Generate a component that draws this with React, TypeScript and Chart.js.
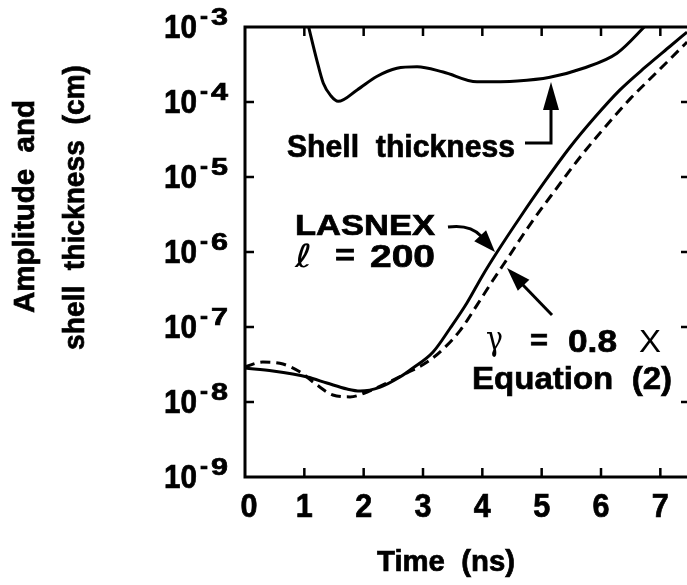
import React, { useEffect, useRef } from "react";
import { Chart, registerables } from "chart.js";

Chart.register(...registerables);

// LASNEX simulation, l = 200 (solid)
const lasnexTime = [0, 0.47, 1.05, 1.38, 1.72, 1.94, 2.28, 2.61, 2.83, 3.17, 3.46, 3.74, 4.0, 4.25, 4.64, 5.06, 5.48, 5.9, 6.32, 6.75, 7.17, 7.45];
const lasnexAmp = [2.84e-8, 2.59e-8, 2.15e-8, 1.79e-8, 1.49e-8, 1.4e-8, 1.58e-8, 2.15e-8, 2.84e-8, 4.65e-8, 9.7e-8, 2.09e-7, 4.8e-7, 1.0e-6, 2.93e-6, 8.85e-6, 2.51e-5, 6.3e-5, 1.45e-4, 2.93e-4, 5.58e-4, 8.57e-4];

// gamma = 0.8 x Equation (2) (dashed)
const eqTime = [0, 0.3, 0.64, 0.93, 1.21, 1.48, 1.77, 2.06, 2.39, 2.73, 3.07, 3.34, 3.63, 3.91, 4.17, 4.44, 4.81, 5.23, 5.65, 6.07, 6.49, 6.91, 7.45];
const eqAmp = [2.95e-8, 3.41e-8, 3.21e-8, 2.51e-8, 1.69e-8, 1.24e-8, 1.17e-8, 1.36e-8, 1.79e-8, 2.44e-8, 3.41e-8, 5.09e-8, 9.1e-8, 1.96e-7, 4.1e-7, 8.57e-7, 2.36e-6, 6.71e-6, 1.85e-5, 4.65e-5, 1.1e-4, 2.36e-4, 6.3e-4];

// Shell thickness (solid)
const shellTime = [1.06, 1.21, 1.32, 1.45, 1.57, 1.89, 2.22, 2.56, 2.9, 3.34, 3.91, 4.59, 5.14, 5.7, 6.27, 6.78];
const shellThick = [1.1e-3, 3.63e-4, 1.78e-4, 1.2e-4, 1.02e-4, 1.45e-4, 2.19e-4, 2.82e-4, 2.95e-4, 2.51e-4, 1.86e-4, 1.91e-4, 2.14e-4, 2.82e-4, 4.47e-4, 1.1e-3];

const xTickValues = [0, 1, 2, 3, 4, 5, 6, 7];
const xTickLabels = ["0", "1", "2", "3", "4", "5", "6", "7"];
const yTickValues = [1e-9, 1e-8, 1e-7, 1e-6, 1e-5, 1e-4, 1e-3];
const yTickExponents = ["9", "8", "7", "6", "5", "4", "3"];

const xTitle = "Time  (ns)";
const yTitle1 = "Amplitude  and";
const yTitle2 = "shell  thickness  (cm)";

const font = (s: number, bold = true) =>
  `${bold ? "bold " : ""}${s}px 'Liberation Sans', Arial, sans-serif`;

function fitText(ctx: CanvasRenderingContext2D, text: string, left: number, baseline: number, width: number, f: string, heavy = true) {
  ctx.save();
  ctx.font = f;
  const w = ctx.measureText(text).width;
  ctx.translate(left, baseline);
  ctx.scale(width / w, 1);
  ctx.textAlign = "left";
  ctx.textBaseline = "alphabetic";
  ctx.fillText(text, 0, 0);
  if (heavy) {
    ctx.lineWidth = 0.7;
    ctx.strokeText(text, 0, 0);
  }
  ctx.restore();
}

function fitTextRot(ctx: CanvasRenderingContext2D, text: string, baselineX: number, startY: number, width: number, f: string) {
  ctx.save();
  ctx.font = f;
  const w = ctx.measureText(text).width;
  ctx.translate(baselineX, startY);
  ctx.rotate(-Math.PI / 2);
  ctx.scale(width / w, 1);
  ctx.textAlign = "left";
  ctx.textBaseline = "alphabetic";
  ctx.fillText(text, 0, 0);
  ctx.lineWidth = 0.7;
  ctx.strokeText(text, 0, 0);
  ctx.restore();
}

function arrowHead(ctx: CanvasRenderingContext2D, fromX: number, fromY: number, tipX: number, tipY: number, len: number, half: number) {
  const dx = tipX - fromX;
  const dy = tipY - fromY;
  const d = Math.hypot(dx, dy);
  const ux = dx / d, uy = dy / d;
  const bx = tipX - ux * len, by = tipY - uy * len;
  ctx.beginPath();
  ctx.moveTo(tipX, tipY);
  ctx.lineTo(bx - uy * half, by + ux * half);
  ctx.lineTo(bx + uy * half, by - ux * half);
  ctx.closePath();
  ctx.fill();
}

const decorPlugin = {
  id: "decor",
  afterDraw(chart: any) {
    const ctx: CanvasRenderingContext2D = chart.ctx;
    const xs = chart.scales.x;
    const ys = chart.scales.y;
    const { left, right, top, bottom } = chart.chartArea;
    ctx.save();
    ctx.strokeStyle = "#000";
    ctx.fillStyle = "#000";
    ctx.lineCap = "butt";

    // frame
    ctx.lineWidth = 3;
    ctx.strokeRect(left, top, right - left, bottom - top);

    // inward ticks
    ctx.lineWidth = 2.5;
    const tl = 9;
    xTickValues.forEach((v) => {
      const px = xs.getPixelForValue(v);
      if (v === 0) return;
      ctx.beginPath();
      ctx.moveTo(px, bottom);
      ctx.lineTo(px, bottom - tl);
      ctx.moveTo(px, top);
      ctx.lineTo(px, top + tl);
      ctx.stroke();
    });
    yTickValues.forEach((v, i) => {
      if (i === 0 || i === yTickValues.length - 1) return;
      const py = ys.getPixelForValue(v);
      ctx.beginPath();
      ctx.moveTo(left, py);
      ctx.lineTo(left + tl, py);
      ctx.moveTo(right, py);
      ctx.lineTo(right - tl, py);
      ctx.stroke();
    });

    // x tick labels
    xTickValues.forEach((v, i) => {
      const px = xs.getPixelForValue(v) + (v === 0 ? 4 : 0);
      fitText(ctx, xTickLabels[i], px - 8.5, bottom + 40, 17, font(33));
    });

    // y tick labels 10^-n
    yTickValues.forEach((v, i) => {
      const py = ys.getPixelForValue(v);
      fitText(ctx, "10", 164, py + 11, 33, font(33));
      fitText(ctx, "-", 200, py - 3, 8, font(24));
      fitText(ctx, yTickExponents[i], 211, py - 2, 17, font(24));
    });

    // axis titles
    fitText(ctx, xTitle, 377, 571, 138, font(29));
    fitTextRot(ctx, yTitle1, 34, 313, 213, font(30));
    fitTextRot(ctx, yTitle2, 84, 350, 285, font(30));

    // annotations
    fitText(ctx, "Shell  thickness", 287, 157, 228, font(32));
    fitText(ctx, "LASNEX", 295, 235, 140, font(30));
    fitText(ctx, "\u2113", 295, 267, 17, "32px 'DejaVu Sans', sans-serif", false);
    fitText(ctx, "=", 335, 265, 20, font(30));
    fitText(ctx, "200", 370, 267, 65, font(32));
    fitText(ctx, "\u03b3", 486, 350, 17, "36px 'DejaVu Serif', serif", false);
    fitText(ctx, "=", 530, 350, 18, font(30));
    fitText(ctx, "0.8", 568, 352, 49, font(32));
    fitText(ctx, "X", 639, 352, 22, font(32, false), false);
    fitText(ctx, "Equation  (2)", 472, 389, 200, font(32));

    // arrows
    ctx.lineWidth = 3;
    // shell thickness arrow
    ctx.beginPath();
    ctx.moveTo(525, 143);
    ctx.lineTo(551, 143);
    ctx.lineTo(551, 106);
    ctx.stroke();
    arrowHead(ctx, 551, 143, 551, 82, 28, 8);
    // LASNEX arrow
    ctx.beginPath();
    ctx.moveTo(448, 227);
    ctx.quadraticCurveTo(470, 224, 481, 236);
    ctx.stroke();
    arrowHead(ctx, 474, 229, 495, 252, 22, 8);
    // gamma arrow
    ctx.beginPath();
    ctx.moveTo(552, 315);
    ctx.lineTo(522, 284);
    ctx.stroke();
    arrowHead(ctx, 552, 315, 507, 268, 24, 8);

    ctx.restore();
  },
};

export default function App() {
  const ref = useRef<HTMLCanvasElement>(null);
  useEffect(() => {
    const canvas = ref.current!;
    const line = (xsArr: number[], ysArr: number[], dash: number[]) => ({
      data: xsArr.map((x, i) => ({ x, y: ysArr[i] })),
      borderColor: "#000",
      backgroundColor: "#000",
      borderWidth: 3,
      borderDash: dash,
      pointRadius: 0,
      cubicInterpolationMode: "monotone" as const,
      fill: false,
    });
    const chart = new Chart(canvas, {
      type: "line",
      data: {
        datasets: [
          line(lasnexTime, lasnexAmp, []),
          line(eqTime, eqAmp, [10, 6]),
          line(shellTime, shellThick, []),
        ],
      },
      options: {
        animation: false,
        responsive: false,
        devicePixelRatio: 1,
        events: [],
        layout: { padding: { left: 245, right: 10, top: 27, bottom: 108 } },
        plugins: { legend: { display: false }, tooltip: { enabled: false } },
        scales: {
          x: { type: "linear", min: 0, max: 7.5, display: false },
          y: { type: "logarithmic", min: 1e-9, max: 1e-3, display: false },
        },
      },
      plugins: [decorPlugin],
    });
    return () => chart.destroy();
  }, []);
  return (
    <div style={{ position: "fixed", left: 0, top: 0, width: 687, height: 585, overflow: "hidden", background: "#fff" }}>
      <canvas ref={ref} width={700} height={585} style={{ display: "block", width: 700, height: 585 }} />
    </div>
  );
}
